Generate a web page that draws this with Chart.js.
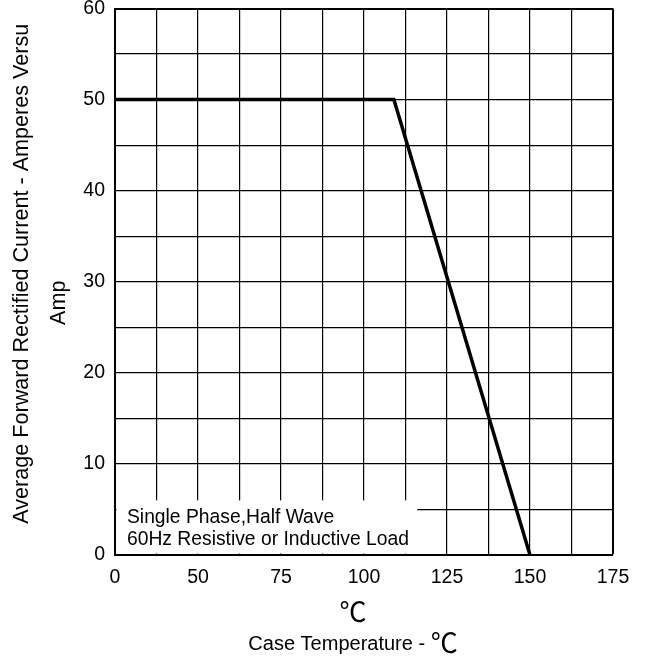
<!DOCTYPE html>
<html>
<head>
<meta charset="utf-8">
<script src="https://cdn.jsdelivr.net/npm/chart.js@4.4.1/dist/chart.umd.min.js"></script>
<style>
  body { margin: 0; background: #fff; }
</style>
</head>
<body>
<canvas id="chart" width="646" height="660"></canvas>
<script>
// derating curve (°C, A)
// the axis starts at 25 but the original labels that first position "0"
const caseTemps = [25, 109, 150];
const currents = [50, 50, 0];

const xTickValues = [25, 50, 75, 100, 125, 150, 175];
const xTickLabels = ["0", "50", "75", "100", "125", "150", "175"];
const yTickValues = [0, 10, 20, 30, 40, 50, 60];

const yTitleLines = ["Average Forward Rectified Current - Amperes Versu", "Amp"];
const xTitleTop = "\u2103";
const xTitleText = "Case Temperature - ";
const noteLines = ["Single Phase,Half Wave", "60Hz Resistive or Inductive Load"];

const sans = "'Liberation Sans', Arial, sans-serif";
const degFont = "'Noto Sans CJK SC', 'DejaVu Sans', sans-serif";

const overlay = {
  id: "overlay",
  beforeDatasetsDraw(chart) {
    const { ctx, chartArea, scales } = chart;
    // white note box in the lower left corner, covers the grid
    const right = scales.x.getPixelForValue(116);
    const top = scales.y.getPixelForValue(6);
    ctx.save();
    ctx.fillStyle = "#fff";
    ctx.fillRect(chartArea.left + 1.5, top, right - chartArea.left - 1.5, chartArea.bottom - top - 1.5);
    ctx.fillStyle = "#000";
    ctx.font = "19.3px " + sans;
    ctx.textBaseline = "alphabetic";
    ctx.fillText(noteLines[0], chartArea.left + 12, chartArea.bottom - 32);
    ctx.fillText(noteLines[1], chartArea.left + 12, chartArea.bottom - 10);
    ctx.restore();
  },
  afterDraw(chart) {
    const { ctx, chartArea } = chart;
    const midY = (chartArea.top + chartArea.bottom) / 2;
    ctx.save();
    ctx.fillStyle = "#000";

    // y axis title, two rotated lines
    ctx.font = "21.6px " + sans;
    ctx.textAlign = "center";
    ctx.textBaseline = "alphabetic";
    ctx.save();
    ctx.translate(28, midY - 8);
    ctx.rotate(-Math.PI / 2);
    ctx.fillText(yTitleLines[0], 0, 0);
    ctx.restore();
    ctx.save();
    ctx.translate(65, midY + 21);
    ctx.rotate(-Math.PI / 2);
    ctx.fillText(yTitleLines[1], 0, 0);
    ctx.restore();

    // x axis title: unit on its own line, then the label
    const cx = chartArea.left + 238;
    ctx.font = "27px " + degFont;
    ctx.textAlign = "center";
    ctx.fillText(xTitleTop, cx, chartArea.bottom + 67);

    ctx.font = "20px " + sans;
    const w1 = ctx.measureText(xTitleText).width;
    ctx.font = "27px " + degFont;
    const w2 = ctx.measureText(xTitleTop).width;
    const x0 = cx - (w1 + w2) / 2;
    ctx.textAlign = "left";
    ctx.font = "20px " + sans;
    ctx.fillText(xTitleText, x0, chartArea.bottom + 95);
    ctx.font = "27px " + degFont;
    ctx.fillText(xTitleTop, x0 + w1, chartArea.bottom + 98);
    ctx.restore();
  }
};

new Chart(document.getElementById("chart"), {
  type: "scatter",
  data: {
    datasets: [
      {
        data: caseTemps.map((t, i) => ({ x: t, y: currents[i] })),
        showLine: true,
        borderColor: "#000",
        borderWidth: 3.5,
        pointRadius: 0,
        tension: 0,
      },
    ],
  },
  options: {
    responsive: false,
    animation: false,
    layout: { padding: { left: 55, right: 33, top: 8.5, bottom: 60 } },
    plugins: {
      legend: { display: false },
      tooltip: { enabled: false },
    },
    scales: {
      x: {
        type: "linear",
        min: 25,
        max: 175,
        afterFit: (s) => {
          s.height = 45;
          s.paddingLeft = 0;
          s.paddingRight = 0;
        },
        ticks: {
          stepSize: 12.5,
          autoSkip: false,
          maxRotation: 0,
          padding: 11,
          color: "#000",
          font: { family: sans, size: 19.5 },
          callback: (v) => {
            const i = xTickValues.indexOf(v);
            return i < 0 ? "" : xTickLabels[i];
          },
        },
        grid: {
          color: "#000",
          lineWidth: (c) => (c.tick && c.tick.value === 175 ? 2 : 1.2),
          drawTicks: false,
        },
        border: { color: "#000", width: 2 },
      },
      y: {
        min: 0,
        max: 60,
        afterFit: (s) => {
          s.width = 60;
          s.paddingTop = 0;
          s.paddingBottom = 0;
        },
        ticks: {
          stepSize: 5,
          padding: 10,
          color: "#000",
          font: { family: sans, size: 19.5 },
          callback: (v) => (yTickValues.includes(v) ? String(v) : ""),
        },
        grid: {
          color: "#000",
          lineWidth: (c) => (c.tick && c.tick.value === 60 ? 2 : 1.2),
          drawTicks: false,
        },
        border: { color: "#000", width: 2 },
      },
    },
  },
  plugins: [overlay],
});
</script>
</body>
</html>
